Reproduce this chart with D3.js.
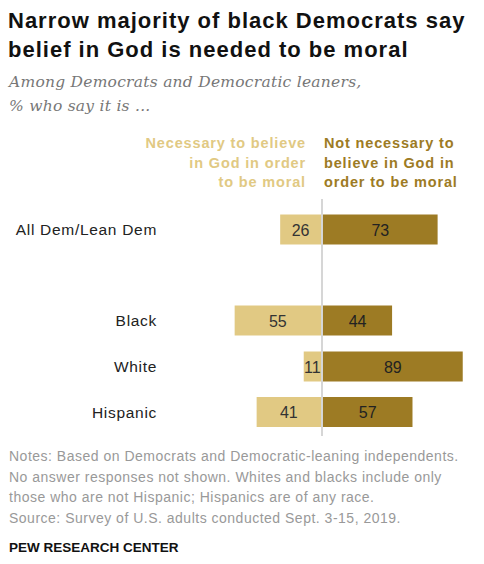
<!DOCTYPE html>
<html><head><meta charset="utf-8">
<script src="https://cdn.jsdelivr.net/npm/d3@7"></script>
<style>body{margin:0;background:#fff}svg{display:block}</style>
</head><body>
<script>
const categories = ["All Dem/Lean Dem", "Black", "White", "Hispanic"];
const necessary = [26, 55, 11, 41];
const notNecessary = [73, 44, 89, 57];
const legendNecessary = ["Necessary to believe", "in God in order", "to be moral"];
const legendNot = ["Not necessary to", "believe in God in", "order to be moral"];
const titleLines = ["Narrow majority of black Democrats say", "belief in God is needed to be moral"];
const subtitleLines = ["Among Democrats and Democratic leaners,", "% who say it is ..."];
const notes = ["Notes: Based on Democrats and Democratic-leaning independents.",
  "No answer responses not shown. Whites and blacks include only",
  "those who are not Hispanic; Hispanics are of any race.",
  "Source: Survey of U.S. adults conducted Sept. 3-15, 2019."];

const W = 484, H = 564;
const lightC = "#e1c983", darkC = "#9d7b24";
const svg = d3.select("body").append("svg").attr("width", W).attr("height", H);
const sans = "Arial, 'Liberation Sans', sans-serif";

svg.append("g").selectAll("text").data(titleLines).join("text")
  .attr("x", 8).attr("y", (d,i)=>28 + i*29)
  .attr("font-family", sans).attr("font-weight", "bold").attr("font-size", 22)
  .attr("letter-spacing", 1).attr("fill", "#111").text(d=>d);

svg.append("g").selectAll("text").data(subtitleLines).join("text")
  .attr("x", 9).attr("y", (d,i)=>87 + i*24)
  .attr("font-family", "Georgia, 'DejaVu Serif', serif").attr("font-style", "italic").attr("font-size", 15.5)
  .attr("letter-spacing", 0.25).attr("fill", "#777").text(d=>d);

const cx = 322;
const x = d3.scaleLinear().domain([0, 100]).range([0, 157]);
// vertical band positions: extra gap after the total row
const y = d3.scaleOrdinal().domain(categories).range([229.5, 320.5, 366.5, 412]);
const bh = 30;

svg.append("g").selectAll("text").data(legendNecessary).join("text")
  .attr("x", 306).attr("y", (d,i)=>148 + i*19.5).attr("text-anchor", "end")
  .attr("font-family", sans).attr("font-weight", "bold").attr("font-size", 14.5)
  .attr("letter-spacing", 0.85).attr("fill", lightC).text(d=>d);
svg.append("g").selectAll("text").data(legendNot).join("text")
  .attr("x", 324).attr("y", (d,i)=>148 + i*19.5)
  .attr("font-family", sans).attr("font-weight", "bold").attr("font-size", 14.5)
  .attr("letter-spacing", 0.85).attr("fill", darkC).text(d=>d);

const rows = categories.map((c,i)=>({c, n: necessary[i], nn: notNecessary[i]}));
const g = svg.append("g");
g.selectAll("rect.l").data(rows).join("rect").attr("class","l")
  .attr("x", d=>cx - 1 - x(d.n)).attr("width", d=>x(d.n))
  .attr("y", d=>y(d.c)-bh/2).attr("height", bh).attr("fill", lightC);
g.selectAll("rect.r").data(rows).join("rect").attr("class","r")
  .attr("x", cx + 1).attr("width", d=>x(d.nn))
  .attr("y", d=>y(d.c)-bh/2).attr("height", bh).attr("fill", darkC);

svg.append("line").attr("x1", cx).attr("x2", cx).attr("y1", 199).attr("y2", 436)
  .attr("stroke", "#d6d6d6").attr("stroke-width", 2);

g.selectAll("text.ln").data(rows).join("text").attr("class","ln")
  .attr("x", d=>cx - 1 - x(d.n)/2).attr("y", d=>y(d.c)+6).attr("text-anchor","middle")
  .attr("font-family", sans).attr("font-size", 16).attr("fill", "#333").text(d=>d.n);
g.selectAll("text.rn").data(rows).join("text").attr("class","rn")
  .attr("x", d=>cx + 1 + x(d.nn)/2).attr("y", d=>y(d.c)+6).attr("text-anchor","middle")
  .attr("font-family", sans).attr("font-size", 16).attr("fill", "#222").text(d=>d.nn);

g.selectAll("text.cat").data(rows).join("text").attr("class","cat")
  .attr("x", 157).attr("y", d=>y(d.c)+5.5).attr("text-anchor","end")
  .attr("font-family", sans).attr("font-size", 15.5).attr("letter-spacing", 0.7)
  .attr("fill", "#222").text(d=>d.c);

svg.append("g").selectAll("text").data(notes).join("text")
  .attr("x", 9).attr("y", (d,i)=>461 + i*20.7)
  .attr("font-family", sans).attr("font-size", 14).attr("letter-spacing", 0.5)
  .attr("fill", "#999").text(d=>d);

svg.append("text").attr("x", 9).attr("y", 552)
  .attr("font-family", sans).attr("font-weight", "bold").attr("font-size", 13.5)
  .attr("fill", "#111").text("PEW RESEARCH CENTER");
</script>
</body></html>
